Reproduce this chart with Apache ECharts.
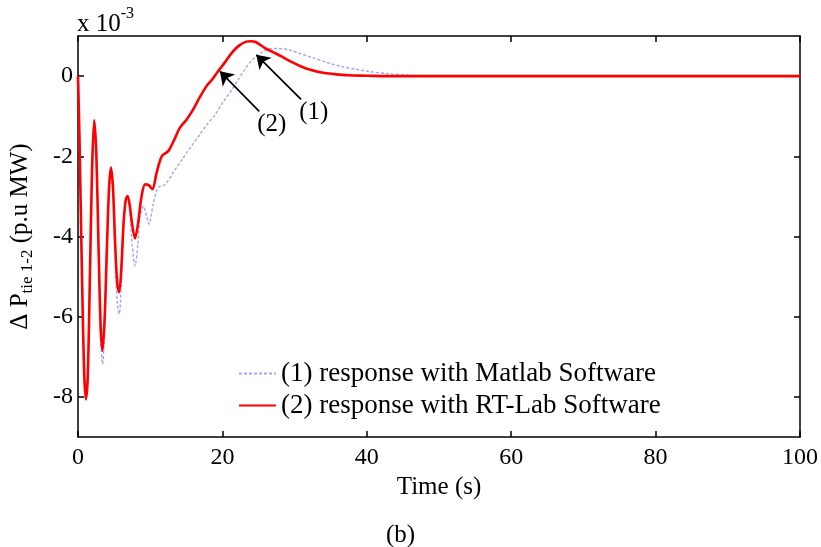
<!DOCTYPE html>
<html>
<head>
<meta charset="utf-8">
<script src="https://cdn.jsdelivr.net/npm/echarts@6/dist/echarts.min.js"></script>
<style>
    html, body {margin: 0; padding: 0; background: #fff;}
    #chart {width: 821px; height: 547px;}
</style>
</head>
<body>
<div id="chart"></div>
<script>
// values, y in units of 1e-3 p.u MW
const matlabTime = [0, 0.2, 0.45, 0.7, 0.9, 1.1, 1.35, 1.65, 1.95, 2.25, 2.55, 2.85, 3.15, 3.4, 3.7, 4.0, 4.3, 4.56,
    4.85, 5.15, 5.45, 5.7, 6.0, 6.3, 6.6, 6.86, 7.15, 7.5, 7.9, 8.3, 8.6, 9.07, 9.5, 9.85, 10.4, 11.1, 12.1, 13.2,
    14.4, 15.5, 16.7, 17.8, 19.0, 20.1, 21.3, 22.2, 23.1, 24.0, 25.0, 25.8, 26.6, 27.5, 28.4, 29.5, 30.8, 32.5,
    34.5, 36.5, 38.5, 40.5, 43, 46, 50, 60, 70, 80, 90, 100];
const matlabValue = [0, -1.5, -4.0, -6.3, -7.65, -8.1, -7.55, -5.0, -2.3, -1.1, -2.1, -4.5, -6.6, -7.18, -6.3, -4.4,
    -2.85, -2.28, -2.9, -4.5, -5.7, -5.93, -5.2, -3.8, -3.1, -2.99, -3.3, -4.2, -4.73, -4.2, -3.5, -3.24, -3.5,
    -3.69, -3.2, -2.78, -2.7, -2.4, -2.08, -1.8, -1.5, -1.22, -0.96, -0.65, -0.34, -0.08, 0.16, 0.38, 0.53, 0.63,
    0.68, 0.69, 0.68, 0.64, 0.56, 0.46, 0.34, 0.24, 0.17, 0.11, 0.06, 0.02, 0, 0, 0, 0, 0, 0];

const rtlabTime = [0, 0.2, 0.45, 0.7, 0.9, 1.1, 1.35, 1.65, 1.95, 2.25, 2.55, 2.85, 3.15, 3.4, 3.7, 4.0, 4.3, 4.56,
    4.85, 5.15, 5.45, 5.7, 6.0, 6.3, 6.6, 6.86, 7.15, 7.5, 7.9, 8.3, 8.8, 9.3, 9.8, 10.3, 10.9, 11.6, 12.5, 13.3,
    14.1, 15.05, 15.9, 16.7, 17.8, 18.6, 19.4, 20.3, 21.3, 22.3, 23.3, 23.9, 24.6, 25.9, 27, 28.2, 29.5, 30.9,
    32.3, 33.7, 35.5, 37.4, 40, 43, 50, 60, 70, 80, 90, 100];
const rtlabValue = [0, -1.5, -4.0, -6.3, -7.6, -8.05, -7.5, -5.0, -2.3, -1.1, -2.0, -4.3, -6.3, -6.85, -6.0, -4.3,
    -2.8, -2.28, -2.8, -4.2, -5.2, -5.39, -4.8, -3.7, -3.1, -2.99, -3.2, -3.7, -4.05, -3.7, -3.0, -2.7, -2.72,
    -2.82, -2.4, -2.0, -1.87, -1.6, -1.29, -1.08, -0.85, -0.58, -0.25, -0.08, 0.12, 0.33, 0.58, 0.76, 0.86, 0.87,
    0.85, 0.70, 0.60, 0.49, 0.36, 0.24, 0.15, 0.09, 0.05, 0.02, 0.01, 0, 0, 0, 0, 0, 0, 0];

const xTicks = [0, 20, 40, 60, 80, 100];
const yTicks = [-8, -6, -4, -2, 0];
const seriesNames = ['(1) response with Matlab Software', '(2) response with RT-Lab Software'];
// arrows: [tail, head] in data coords
const arrow2 = [[25.1, -0.88], [19.65, 0.12]];
const arrow1 = [[30.9, -0.58], [24.7, 0.53]];

const FONT = 'Liberation Serif';
const pairs = (t, v) => t.map((x, i) => [x, v[i]]);

const frameLine = {show: true, onZero: false, lineStyle: {color: '#000', width: 1.5}};
const innerTick = {show: true, inside: true, length: 6, lineStyle: {color: '#000', width: 1.5}};

let myChart = echarts.init(document.getElementById('chart'));
let option = {
    animation: false,
    backgroundColor: '#fff',
    title: {
        text: '(b)',
        left: 381,
        top: 518,
        textStyle: {fontFamily: FONT, fontSize: 25, fontWeight: 'normal', color: '#000'}
    },
    grid: {left: 76, right: 21, top: 36, bottom: 110, containLabel: false},
    legend: {
        orient: 'vertical',
        left: 233,
        top: 355,
        itemWidth: 37,
        itemHeight: 14,
        itemGap: 5,
        itemStyle: {opacity: 0},
        textStyle: {fontFamily: FONT, fontSize: 27, color: '#000'},
        data: seriesNames
    },
    xAxis: [
        {
            type: 'value', min: 0, max: 100, interval: 20, position: 'bottom',
            axisLine: frameLine, axisTick: innerTick, splitLine: {show: false},
            axisLabel: {color: '#000', fontFamily: FONT, fontSize: 24, margin: 9,
                customValues: xTicks},
            name: 'Time (s)', nameLocation: 'middle', nameGap: 33,
            nameTextStyle: {fontFamily: FONT, fontSize: 25, color: '#000'}
        },
        {
            type: 'value', min: 0, max: 100, interval: 20, position: 'top',
            axisLine: frameLine, axisTick: innerTick, splitLine: {show: false},
            axisLabel: {show: false}
        }
    ],
    yAxis: [
        {
            type: 'value', min: -9, max: 1, position: 'left',
            axisLine: frameLine,
            axisTick: Object.assign({customValues: yTicks}, innerTick),
            splitLine: {show: false},
            axisLabel: {color: '#000', fontFamily: FONT, fontSize: 24, margin: 5,
                customValues: yTicks, formatter: v => String(v)},
            name: '{m|Δ P}{s|tie 1-2}{m| (p.u MW)}',
            nameLocation: 'middle', nameGap: 42,
            nameTextStyle: {
                fontFamily: FONT, fontSize: 25, color: '#000',
                rich: {
                    m: {fontFamily: FONT, fontSize: 25, color: '#000'},
                    s: {fontFamily: FONT, fontSize: 17, color: '#000', padding: [14, 0, 0, 0]}
                }
            }
        },
        {
            type: 'value', min: -9, max: 1, position: 'right',
            axisLine: frameLine,
            axisTick: Object.assign({customValues: yTicks}, innerTick),
            splitLine: {show: false},
            axisLabel: {show: false}
        }
    ],
    graphic: [
        {
            type: 'text', left: 77, top: 6,
            style: {
                text: '{a|x 10}{b|-3}',
                rich: {
                    a: {fontFamily: FONT, fontSize: 25, fill: '#000'},
                    b: {fontFamily: FONT, fontSize: 16, fill: '#000', padding: [0, 0, 20, 0]}
                }
            }
        }
    ],
    series: [
        {
            name: seriesNames[0],
            type: 'line',
            symbol: 'none',
            smooth: 0.3,
            data: pairs(matlabTime, matlabValue),
            lineStyle: {color: '#9ea6f2', width: 1.4, type: [3, 2]},
            itemStyle: {color: '#9ea6f2'}
        },
        {
            name: seriesNames[1],
            type: 'line',
            symbol: 'none',
            smooth: 0.3,
            data: pairs(rtlabTime, rtlabValue),
            lineStyle: {color: '#ff0000', width: 2.6},
            itemStyle: {color: '#ff0000'},
            markLine: {
                silent: true,
                symbol: ['none', 'arrow'],
                symbolSize: 13,
                lineStyle: {color: '#000', width: 1.7, type: 'solid'},
                label: {
                    show: true, position: 'start', distance: 18,
                    formatter: p => p.name,
                    fontFamily: FONT, fontSize: 25, color: '#000'
                },
                data: [
                    [{coord: arrow2[0], name: '(2)'}, {coord: arrow2[1]}],
                    [{coord: arrow1[0], name: '(1)'}, {coord: arrow1[1]}]
                ]
            }
        }
    ]
};
myChart.setOption(option);
</script>
</body>
</html>
